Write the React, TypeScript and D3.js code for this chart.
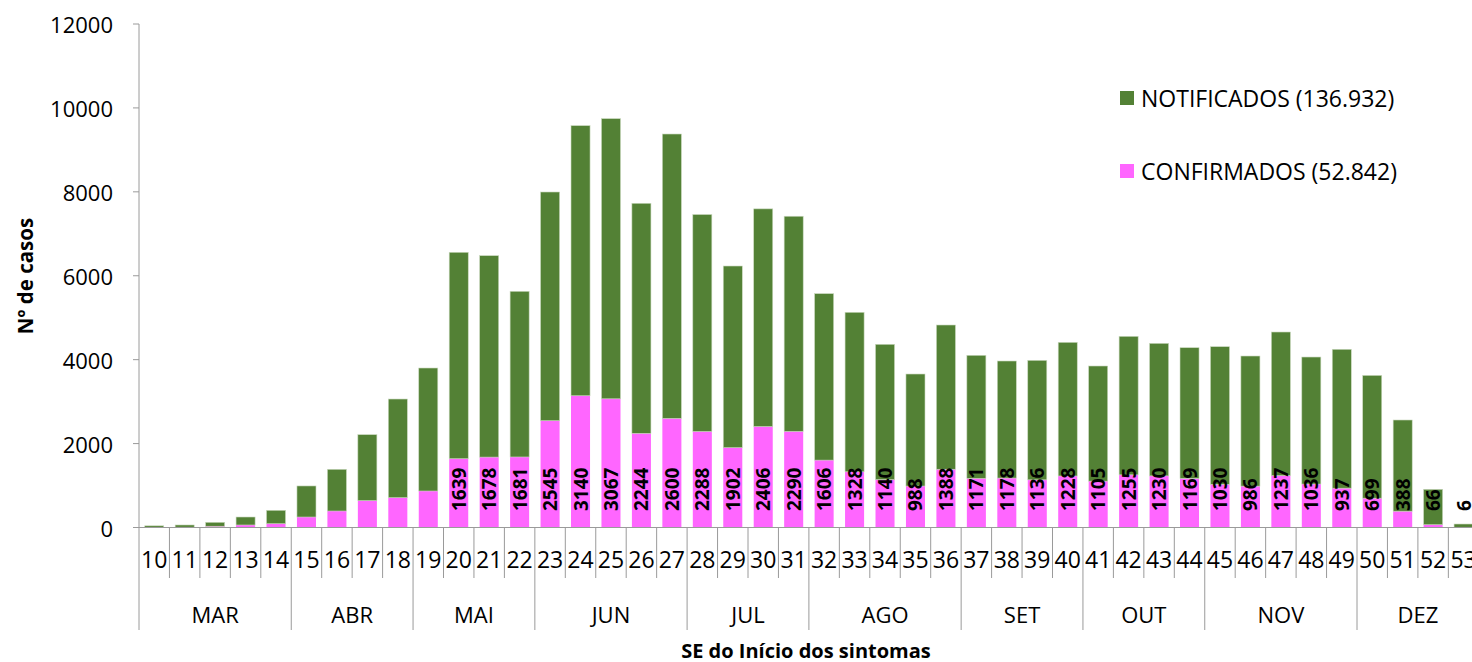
import React from 'react';
import * as d3 from 'd3';

const weeks = ['10','11','12','13','14','15','16','17','18','19','20','21','22','23','24','25','26','27','28','29','30','31','32','33','34','35','36','37','38','39','40','41','42','43','44','45','46','47','48','49','50','51','52','53'];

// CONFIRMADOS (lower, pink segment)
const confirmados = [5,7,30,60,90,250,393,640,710,870,1639,1678,1681,2545,3140,3067,2244,2600,2288,1902,2406,2290,1606,1328,1140,988,1388,1171,1178,1136,1228,1105,1255,1230,1169,1030,986,1237,1036,937,699,388,66,6];

// NOTIFICADOS (upper, green segment, stacked on top)
const notificados = [35,53,94,190,320,740,994,1572,2352,2931,4920,4800,3948,5451,6437,6677,5483,6778,5171,4330,5188,5128,3967,3801,3226,2670,3438,2933,2790,2848,3185,2744,3301,3159,3116,3279,3101,3422,3027,3310,2926,2174,844,77];

// first week whose confirmed value carries a label
const labelFrom = '20';

const monthNames = ['MAR','ABR','MAI','JUN','JUL','AGO','SET','OUT','NOV','DEZ'];
const monthFirstWeek = ['10','15','19','23','28','32','37','41','45','50'];

const yTicks = [0,2000,4000,6000,8000,10000,12000];

const legendLabels = ['NOTIFICADOS (136.932)','CONFIRMADOS (52.842)'];

const GREEN = '#538135';
const PINK = '#FF66FF';
const AXIS = '#9a9a9a';
const FONT = '"Open Sans", "Noto Sans", sans-serif';

export default function App() {
  const W = 1472, H = 662;
  const left = 139;
  const step = 30.45;
  const x = d3.scaleBand<string>().domain(weeks).range([left, left + weeks.length * step]).paddingInner(0.375).paddingOuter(0.1875);
  const y = d3.scaleLinear().domain([0, 12000]).range([527.5, 24]);
  const s = x.step();
  const x0 = x.range()[0];
  const boundary = (i: number) => x0 + i * s;
  const labelStartIdx = weeks.indexOf(labelFrom);

  const monthIdx = monthFirstWeek.map(w => weeks.indexOf(w));

  return (
    <svg width={W} height={H} style={{ position: 'absolute', left: 0, top: 0, background: '#fff' }} fontFamily={FONT}>
      {/* bars */}
      {weeks.map((w, i) => {
        const c = confirmados[i];
        const n = notificados[i];
        const bx = x(w)!;
        const bw = x.bandwidth();
        return (
          <g key={w}>
            <rect x={bx} width={bw} y={y(c)} height={y(0) - y(c)} fill={PINK} />
            <rect x={bx} width={bw} y={y(c + n)} height={y(c) - y(c + n)} fill={GREEN} stroke="#c9d8bd" strokeWidth={0.6} />
          </g>
        );
      })}
      {/* data labels */}
      {weeks.map((w, i) => {
        if (i < labelStartIdx) return null;
        const cx = x(w)! + x.bandwidth() / 2;
        const cy = 511;
        return (
          <text key={'l' + w} transform={`translate(${cx},${cy}) rotate(-90)`} textAnchor="start" dominantBaseline="central" fontSize={19} fontWeight="bold" fill="#000">
            {confirmados[i]}
          </text>
        );
      })}
      {/* y axis */}
      <line x1={left} x2={left} y1={y(12000)} y2={y(0)} stroke={AXIS} strokeWidth={1} />
      {yTicks.map(t => (
        <g key={'y' + t}>
          <line x1={left - 6} x2={left} y1={y(t)} y2={y(t)} stroke={AXIS} strokeWidth={1} />
          <text x={113} y={y(t)} textAnchor="end" dominantBaseline="central" fontSize={22} fill="#000">{t}</text>
        </g>
      ))}
      <text transform={`translate(25,276) rotate(-90)`} textAnchor="middle" dominantBaseline="central" fontSize={20.5} fontWeight="bold" fill="#000">Nº de casos</text>
      {/* x axis */}
      <line x1={left} x2={W} y1={y(0)} y2={y(0)} stroke={AXIS} strokeWidth={1} />
      {d3.range(weeks.length + 1).map(i => {
        const isMonth = monthIdx.includes(i) || i === 0;
        return (
          <line key={'s' + i} x1={boundary(i)} x2={boundary(i)} y1={y(0)} y2={isMonth ? 630 : 578} stroke={AXIS} strokeWidth={1} />
        );
      })}
      {weeks.map(w => (
        <text key={'w' + w} x={x(w)! + x.bandwidth() / 2} y={559} textAnchor="middle" dominantBaseline="central" fontSize={23} fill="#000">{w}</text>
      ))}
      {monthNames.map((m, k) => {
        const a = monthIdx[k];
        const b = k + 1 < monthIdx.length ? monthIdx[k + 1] : weeks.length;
        const cx = (boundary(a) + boundary(b)) / 2;
        return (
          <text key={m} x={cx} y={614} textAnchor="middle" dominantBaseline="central" fontSize={22} fill="#000">{m}</text>
        );
      })}
      <text x={806} y={650} textAnchor="middle" dominantBaseline="central" fontSize={20} fontWeight="bold" fill="#000">SE do Início dos sintomas</text>
      {/* legend */}
      <rect x={1120} y={91} width={14} height={14} fill={GREEN} />
      <text x={1141} y={98} dominantBaseline="central" fontSize={23} fill="#000">{legendLabels[0]}</text>
      <rect x={1120} y={164} width={14} height={14} fill={PINK} />
      <text x={1141} y={171} dominantBaseline="central" fontSize={23} fill="#000">{legendLabels[1]}</text>
    </svg>
  );
}
